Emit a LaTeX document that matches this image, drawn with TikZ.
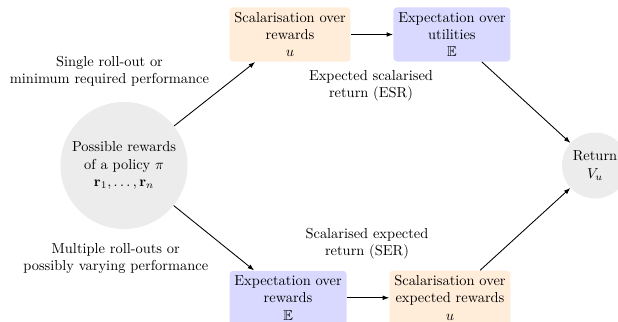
\documentclass[tikz,border=0pt]{standalone}
\usepackage{amssymb}
\usetikzlibrary{arrows.meta}
\begin{document}
\begin{tikzpicture}[x=0.6925pt,y=-0.6925pt,
  orangebox/.style={fill=orange!15,rounded corners=2.5pt,align=center,inner sep=3.33pt},
  bluebox/.style={fill=blue!15,rounded corners=2.5pt,align=center,inner sep=3.33pt},
  bigcirc/.style={circle,fill=gray!15,align=center,minimum size=88pt,inner sep=1pt},
  smallcirc/.style={circle,fill=gray!15,align=center,minimum size=45.7pt,inner sep=0.5pt},
  lbl/.style={align=center,inner sep=0pt},
  conn/.style={-{Latex[length=4.5pt,width=3.2pt]},semithick}]
\useasboundingbox (0,0) rectangle (618,322);
\clip (0,0) rectangle (618,322);
\node[bigcirc] (pos) at (124,165.5) {Possible rewards\\of a policy $\pi$\\$\mathbf{r}_1,\ldots,\mathbf{r}_n$};
\node[smallcirc] (ret) at (595,165.5) {Return\\$V_u$};
\node[orangebox,anchor=west] (scal1) at (229.3,34.5) {Scalarisation over\\rewards\\$u$};
\node[bluebox,anchor=east] (exp1) at (510.7,34.5) {Expectation over\\utilities\\$\mathbb{E}$};
\node[bluebox,anchor=west] (exp2) at (229.3,297.8) {Expectation over\\rewards\\$\mathbb{E}$};
\node[orangebox,anchor=east] (scal2) at (510.7,297.8) {Scalarisation over\\expected rewards\\$u$};
\node[lbl] (l1) at (109.5,71.5) {Single roll-out or\\minimum required performance};
\node[lbl] (l2) at (115.8,258.5) {Multiple roll-outs or\\possibly varying performance};
\node[lbl] (l3) at (371,85.5) {Expected scalarised\\return (ESR)};
\node[lbl] (l4) at (367,243.5) {Scalarised expected\\return (SER)};
\draw[conn] (pos) -- (scal1);
\draw[conn] (pos) -- (exp2);
\draw[conn] (scal1) -- (exp1);
\draw[conn] (exp2) -- (scal2);
\draw[conn] (exp1) -- (ret);
\draw[conn] (scal2) -- (ret);
\end{tikzpicture}
\end{document}
